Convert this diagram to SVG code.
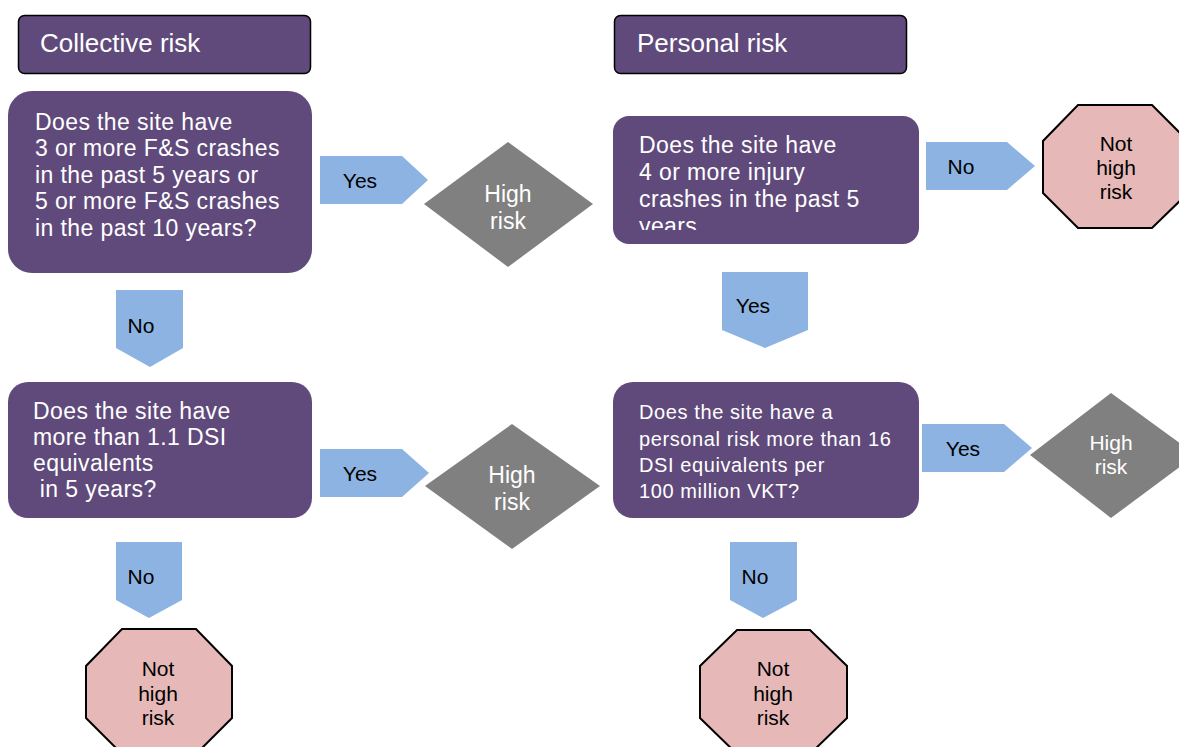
<svg xmlns="http://www.w3.org/2000/svg" width="1179" height="747" viewBox="0 0 1179 747">
  <style>
    .hdr { fill: #604A7B; stroke: #000; stroke-width: 1.5; }
    .q { fill: #604A7B; }
    .arrow { fill: #8DB3E2; }
    .dia { fill: #808080; }
    .stop { fill: #E6B9B8; stroke: #000; stroke-width: 2; }
    text { font-family: "Liberation Sans", Arial, sans-serif; }
    .ht { fill: #fff; font-size: 26px; }
    .qt { fill: #fff; font-size: 23px; letter-spacing: 0.4px; }
    .qs { fill: #fff; font-size: 20px; letter-spacing: 0.6px; }
    .al { fill: #000; font-size: 21px; text-anchor: middle; }
    .dt { fill: #fff; font-size: 23px; text-anchor: middle; }
    .dts { fill: #fff; font-size: 21px; text-anchor: middle; }
    .ot { fill: #000; font-size: 21px; text-anchor: middle; }
  </style>
  <defs>
    <clipPath id="clipQ2"><rect x="613" y="116" width="306" height="114"/></clipPath>
  </defs>
  <rect width="1179" height="747" fill="#fff"/>

  <!-- column headers -->
  <g id="hdr-collective">
    <rect class="hdr" x="18.5" y="15.5" width="292" height="58" rx="6"/>
    <text class="ht" x="40" y="52">Collective risk</text>
  </g>
  <g id="hdr-personal">
    <rect class="hdr" x="614.5" y="15.5" width="292" height="58" rx="6"/>
    <text class="ht" x="637" y="52">Personal risk</text>
  </g>

  <!-- question boxes -->
  <g id="q-fs-crashes">
    <rect class="q" x="8" y="91" width="304" height="182" rx="24"/>
    <text class="qt" x="35" y="130">Does the site have</text>
    <text class="qt" x="35" y="156">3 or more F&amp;S crashes</text>
    <text class="qt" x="35" y="183">in the past 5 years or</text>
    <text class="qt" x="35" y="209">5 or more F&amp;S crashes</text>
    <text class="qt" x="35" y="236">in the past 10 years?</text>
  </g>
  <g id="q-dsi">
    <rect class="q" x="8" y="382" width="304" height="136" rx="20"/>
    <text class="qt" x="33" y="419">Does the site have</text>
    <text class="qt" x="33" y="445">more than 1.1 DSI</text>
    <text class="qt" x="33" y="471">equivalents</text>
    <text class="qt" x="33" y="497" xml:space="preserve"> in 5 years?</text>
  </g>
  <g id="q-injury">
    <rect class="q" x="613" y="116" width="306" height="128" rx="16"/>
    <g clip-path="url(#clipQ2)">
      <text class="qt" x="639" y="153">Does the site have</text>
      <text class="qt" x="639" y="180">4 or more injury</text>
      <text class="qt" x="639" y="207">crashes in the past 5</text>
      <text class="qt" x="639" y="234">years</text>
    </g>
  </g>
  <g id="q-personal">
    <rect class="q" x="613" y="382" width="306" height="136" rx="20"/>
    <text class="qs" x="639" y="419">Does the site have a</text>
    <text class="qs" x="639" y="446">personal risk more than 16</text>
    <text class="qs" x="639" y="472">DSI equivalents per</text>
    <text class="qs" x="639" y="498">100 million VKT?</text>
  </g>

  <!-- outcomes -->
  <g id="high-1">
    <polygon class="dia" points="508,142 593,204 508,267 424,204"/>
    <text class="dt" x="508" y="202">High</text>
    <text class="dt" x="508" y="229">risk</text>
  </g>
  <g id="high-2">
    <polygon class="dia" points="512,424 600,486 512,549 425,486"/>
    <text class="dt" x="512" y="483">High</text>
    <text class="dt" x="512" y="510">risk</text>
  </g>
  <g id="high-3">
    <polygon class="dia" points="1111,393 1196,455 1111,518 1030,455"/>
    <text class="dts" x="1111" y="450">High</text>
    <text class="dts" x="1111" y="474">risk</text>
  </g>
  <g id="not-high-1">
    <polygon class="stop" points="1078,105 1152,105 1188,141 1188,193 1152,228 1078,228 1043,193 1043,141"/>
    <text class="ot" x="1116" y="151">Not</text>
    <text class="ot" x="1116" y="175">high</text>
    <text class="ot" x="1116" y="199">risk</text>
  </g>
  <g id="not-high-2">
    <polygon class="stop" points="122,629 196,629 232,666 232,718 196,754 122,754 86,718 86,666"/>
    <text class="ot" x="158" y="676">Not</text>
    <text class="ot" x="158" y="701">high</text>
    <text class="ot" x="158" y="725">risk</text>
  </g>
  <g id="not-high-3">
    <polygon class="stop" points="737,630 810,630 847,666 847,718 810,754 737,754 700,718 700,666"/>
    <text class="ot" x="773" y="676">Not</text>
    <text class="ot" x="773" y="701">high</text>
    <text class="ot" x="773" y="725">risk</text>
  </g>

  <!-- connectors: block arrows with labels -->
  <g id="connectors">
    <polygon class="arrow" points="320,156 402,156 428,180 402,204 320,204"/>
    <text class="al" x="360" y="188">Yes</text>
    <polygon class="arrow" points="320,449 402,449 429,473 402,497 320,497"/>
    <text class="al" x="360" y="481">Yes</text>
    <polygon class="arrow" points="116,290 183,290 183,348 150,367 116,348"/>
    <text class="al" x="141" y="333">No</text>
    <polygon class="arrow" points="116,542 182,542 182,600 149,618 116,600"/>
    <text class="al" x="141" y="584">No</text>
    <polygon class="arrow" points="926,142 1007,142 1035,166 1007,190 926,190"/>
    <text class="al" x="961" y="174">No</text>
    <polygon class="arrow" points="722,272 808,272 808,330 765,348 722,330"/>
    <text class="al" x="753" y="313">Yes</text>
    <polygon class="arrow" points="922,424 1004,424 1032,448 1004,472 922,472"/>
    <text class="al" x="963" y="456">Yes</text>
    <polygon class="arrow" points="730,542 797,542 797,600 763,618 730,600"/>
    <text class="al" x="755" y="584">No</text>
  </g>
</svg>
